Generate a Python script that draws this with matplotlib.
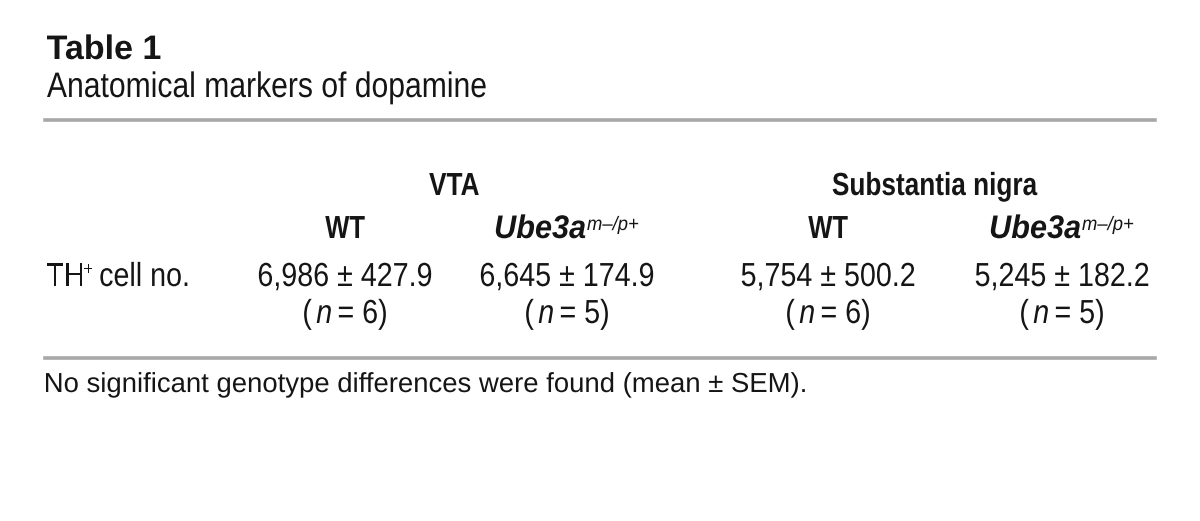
import matplotlib
matplotlib.use("Agg")
import matplotlib.pyplot as plt
from matplotlib.textpath import TextPath
from matplotlib.patches import PathPatch
from matplotlib.font_manager import FontProperties
from matplotlib.transforms import Affine2D

# table content
title = "Table 1"
subtitle = "Anatomical markers of dopamine"
regions = ["VTA", "Substantia nigra"]
genotypes = ["WT", "Ube3a"]
mutant_sup = "m\u2013/p+"
row_label = "TH"
means = [6986, 6645, 5754, 5245]
sems = [427.9, 174.9, 500.2, 182.2]
ns = [6, 5, 6, 5]
footnote = "No significant genotype differences were found (mean \u00b1 SEM)."

W, H = 1200, 521
FAM = "Liberation Sans"
INK = "#151515"
PT = 100 / 72  # points -> pixels

fig = plt.figure(figsize=(W / 100, H / 100), dpi=100)
fig.patch.set_facecolor("white")


def run(text, size, weight="normal", style="normal", gap=0, rise=0, sx=None):
    return dict(text=text, size=size, weight=weight, style=style, gap=gap,
                rise=rise, sx=sx)


def draw(x, y, runs, ha="left", sx=0.86):
    # lay out text runs as glyph paths, squeezed horizontally (condensed face)
    placed = []
    cur = 0
    for r in runs:
        k = r["sx"] if r["sx"] is not None else sx
        fp = FontProperties(family=FAM, weight=r["weight"], style=r["style"])
        tp = TextPath((0, 0), r["text"], size=r["size"], prop=fp)
        bb = tp.get_extents()
        cur += r["gap"]
        off = cur - bb.x0 * PT * k
        placed.append((tp, off, r["rise"], k))
        cur = off + bb.x1 * PT * k
    start = x - cur / 2 if ha == "center" else x
    for tp, off, rise, k in placed:
        tr = Affine2D().scale(k * PT, PT).translate(start + off, H - y + rise)
        fig.add_artist(PathPatch(tp, transform=tr, fc=INK, lw=0))


def hline(y):
    fig.add_artist(plt.Line2D([45 / W, 1155 / W], [1 - y / H] * 2,
                              transform=fig.transFigure, color="#a8a8a8", lw=2.6))


# title block
draw(47, 59, [run(title, 24.5, weight="bold")], sx=1.0)
draw(47, 97, [run(subtitle, 25.5)], sx=0.85)
hline(119.5)

# column headers
col_x = [345, 567, 828, 1062]
group_x = [454, 935]
for gx, name in zip(group_x, regions):
    draw(gx, 195, [run(name, 23, weight="bold")], ha="center", sx=0.82)
for i, cx in enumerate(col_x):
    if i % 2 == 0:
        parts = [run(genotypes[0], 23, weight="bold")]
    else:
        parts = [run(genotypes[1], 23.5, weight="bold", style="italic", sx=0.94),
                 run(mutant_sup, 14, style="italic", gap=2, rise=8, sx=0.95)]
    draw(cx, 238, parts, ha="center", sx=0.8)

# data row
draw(47, 286, [run(row_label, 24), run("+", 14, gap=2, rise=11),
               run("cell no.", 24, gap=8)])
for cx, m, s, n in zip(col_x, means, sems, ns):
    draw(cx, 286, [run(f"{m:,} \u00b1 {s}", 24)], ha="center")
    draw(cx, 323, [run("(", 24), run("n", 24, style="italic", gap=5),
                   run(f"= {n})", 24, gap=8)], ha="center")

hline(358)
draw(46, 392, [run(footnote, 19.8)], sx=1.0)

fig.savefig("out.png", dpi=100, facecolor="white")
